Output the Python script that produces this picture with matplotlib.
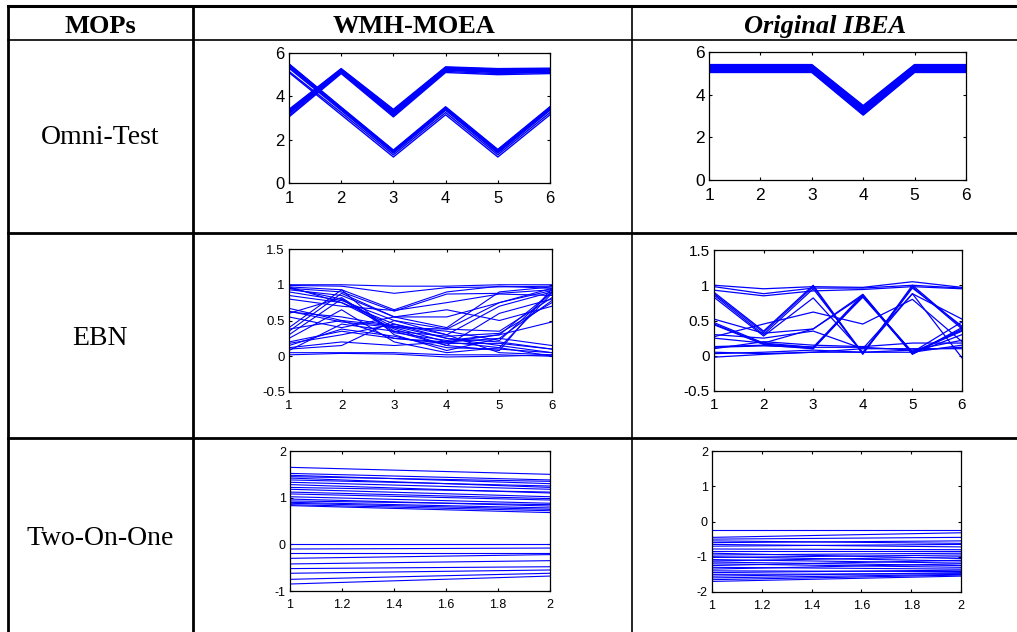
import matplotlib
matplotlib.use('Agg')
import matplotlib.pyplot as plt

plt.rcParams['axes.unicode_minus'] = False

# ---- data (parallel coordinate plots) ----
col_titles = ["MOPs", "WMH-MOEA", "Original IBEA"]
row_titles = ["Omni-Test", "EBN", "Two-On-One"]

omni_x = [1, 2, 3, 4, 5, 6]
omni_wmh_a = [
    [3.05, 5.05, 3.05, 5.10, 5.00, 5.05],
    [3.10, 5.10, 3.10, 5.15, 5.05, 5.10],
    [3.18, 5.12, 3.15, 5.20, 5.10, 5.12],
    [3.22, 5.15, 3.20, 5.22, 5.12, 5.15],
    [3.25, 5.18, 3.22, 5.25, 5.15, 5.18],
    [3.28, 5.20, 3.25, 5.28, 5.18, 5.20],
    [3.30, 5.22, 3.30, 5.30, 5.20, 5.22],
    [3.33, 5.24, 3.32, 5.32, 5.22, 5.25],
    [3.36, 5.26, 3.36, 5.34, 5.25, 5.27],
    [3.40, 5.28, 3.40, 5.36, 5.28, 5.30],
]
omni_wmh_b = [
    [5.10, 3.15, 1.20, 3.15, 1.20, 3.15],
    [5.15, 3.25, 1.30, 3.25, 1.30, 3.25],
    [5.30, 3.35, 1.38, 3.35, 1.38, 3.35],
    [5.35, 3.40, 1.42, 3.40, 1.42, 3.40],
    [5.40, 3.42, 1.45, 3.42, 1.45, 3.42],
    [5.45, 3.45, 1.48, 3.45, 1.48, 3.46],
    [5.48, 3.48, 1.50, 3.48, 1.52, 3.50],
    [5.50, 3.50, 1.52, 3.52, 1.55, 3.52],
]
omni_ibea = [
    [5.05, 5.05, 5.05, 3.05, 5.05, 5.05],
    [5.08, 5.08, 5.08, 3.10, 5.08, 5.08],
    [5.12, 5.12, 5.12, 3.14, 5.12, 5.12],
    [5.15, 5.15, 5.15, 3.18, 5.15, 5.15],
    [5.18, 5.18, 5.18, 3.22, 5.18, 5.18],
    [5.22, 5.22, 5.22, 3.25, 5.22, 5.22],
    [5.25, 5.25, 5.25, 3.28, 5.25, 5.25],
    [5.28, 5.28, 5.28, 3.32, 5.28, 5.28],
    [5.32, 5.32, 5.32, 3.36, 5.32, 5.32],
    [5.35, 5.35, 5.35, 3.40, 5.35, 5.35],
    [5.38, 5.38, 5.38, 3.44, 5.38, 5.38],
    [5.40, 5.40, 5.40, 3.48, 5.40, 5.40],
]

ebn_x = [1, 2, 3, 4, 5, 6]
ebn_wmh = [
    [1.00, 1.00, 0.98, 0.98, 1.00, 1.00],
    [0.99, 0.98, 0.88, 0.96, 0.97, 0.98],
    [0.97, 0.93, 0.65, 0.90, 0.98, 0.95],
    [0.95, 0.90, 0.63, 0.87, 0.88, 0.93],
    [0.93, 0.85, 0.55, 0.40, 0.90, 0.97],
    [0.90, 0.78, 0.50, 0.38, 0.75, 0.92],
    [0.85, 0.75, 0.45, 0.30, 0.70, 0.90],
    [0.80, 0.70, 0.64, 0.75, 0.87, 0.85],
    [0.67, 0.50, 0.42, 0.25, 0.15, 0.05],
    [0.63, 0.48, 0.40, 0.20, 0.12, 0.00],
    [0.60, 0.82, 0.35, 0.15, 0.60, 0.80],
    [0.55, 0.40, 0.55, 0.65, 0.50, 0.70],
    [0.40, 0.93, 0.30, 0.08, 0.25, 0.78],
    [0.35, 0.88, 0.55, 0.55, 0.75, 0.95],
    [0.30, 0.80, 0.40, 0.38, 0.35, 0.82],
    [0.25, 0.65, 0.20, 0.05, 0.12, 0.88],
    [0.20, 0.35, 0.25, 0.20, 0.30, 0.48],
    [0.18, 0.30, 0.45, 0.25, 0.20, 0.10],
    [0.12, 0.20, 0.15, 0.20, 0.25, 0.15],
    [0.10, 0.15, 0.50, 0.30, 0.05, 0.02],
    [0.05, 0.05, 0.05, 0.02, 0.02, 0.00],
    [0.02, 0.04, 0.03, -0.01, 0.00, 0.02],
    [0.97, 0.75, 0.38, 0.15, 0.08, 0.95],
    [0.95, 0.80, 0.33, 0.22, 0.30, 0.90],
    [0.38, 0.50, 0.25, 0.18, 0.18, 0.10],
    [0.15, 0.38, 0.28, 0.12, 0.10, 0.05],
    [0.08, 0.45, 0.35, 0.28, 0.32, 0.75],
    [0.62, 0.55, 0.42, 0.35, 0.22, 0.90],
]
ebn_ibea = [
    [1.00, 0.95, 0.98, 0.97, 1.05, 0.97],
    [0.98, 0.88, 0.96, 0.96, 1.00, 0.96],
    [0.93, 0.85, 0.92, 0.94, 0.98, 0.95],
    [0.90, 0.35, 1.00, 0.03, 1.00, 0.40],
    [0.88, 0.33, 0.98, 0.02, 0.98, 0.38],
    [0.86, 0.30, 0.95, 0.04, 0.96, 0.42],
    [0.83, 0.28, 0.82, 0.05, 0.88, 0.52],
    [0.52, 0.32, 0.38, 0.85, 0.05, 0.48],
    [0.47, 0.18, 0.12, 0.87, 0.03, 0.38],
    [0.45, 0.17, 0.10, 0.85, 0.05, 0.36],
    [0.44, 0.16, 0.12, 0.83, 0.04, 0.35],
    [0.27, 0.45, 0.62, 0.45, 0.80, 0.20],
    [0.25, 0.18, 0.38, 0.87, 0.03, 0.30],
    [0.13, 0.15, 0.10, 0.85, 0.02, 0.40],
    [0.12, 0.14, 0.12, 0.12, 0.08, 0.22],
    [0.10, 0.20, 0.15, 0.13, 0.18, 0.18],
    [0.05, 0.03, 0.05, 0.05, 0.05, 0.15],
    [0.03, 0.05, 0.08, 0.05, 0.08, 0.12],
    [-0.02, 0.02, 0.05, 0.10, 0.10, 0.10],
    [0.30, 0.25, 0.35, 0.10, 0.88, -0.03],
]

two_x = [1, 2]
two_wmh_start = [1.65, 1.52, 1.48, 1.45, 1.42, 1.38, 1.33, 1.28, 1.22, 1.18,
                 1.12, 1.08, 1.02, 0.97, 0.93, 0.90, 0.88, 0.85, 0.83,
                 0.00, -0.10, -0.18, -0.30, -0.42, -0.52, -0.62, -0.75, -0.85]
two_wmh_end = [1.50, 1.38, 1.30, 1.35, 1.22, 1.25, 1.18, 1.10, 1.12, 1.02,
               0.98, 0.95, 0.88, 0.82, 0.85, 0.78, 0.75, 0.72, 0.68,
               0.00, -0.08, -0.18, -0.22, -0.35, -0.48, -0.55, -0.62, -0.68]
two_ibea_start = [-0.25, -0.45, -0.50, -0.55, -0.60, -0.65, -0.70, -0.78, -0.85, -0.90,
                  -0.95, -1.00, -1.02, -1.08, -1.12, -1.15, -1.20, -1.25, -1.30, -1.35,
                  -1.40, -1.45, -1.50, -1.55, -1.60, -1.65, -1.70]
two_ibea_end = [-0.25, -0.32, -0.45, -0.62, -0.55, -0.72, -0.65, -0.80, -0.85, -1.05,
                -0.90, -1.12, -0.95, -1.18, -1.00, -1.25, -1.30, -1.10, -1.35, -1.20,
                -1.42, -1.38, -1.48, -1.45, -1.50, -1.52, -1.55]

W, H = 1017, 632
fig = plt.figure(figsize=(W / 100, H / 100), dpi=100)

# background axes in pixel coordinates for the table grid
bg = fig.add_axes([0, 0, 1, 1])
bg.set_xlim(0, W)
bg.set_ylim(H, 0)
bg.axis('off')

bg.plot([8, W], [6, 6], color='black', lw=2.2)
bg.plot([8, W], [40, 40], color='black', lw=1.2)
bg.plot([8, W], [233, 233], color='black', lw=2.0)
bg.plot([8, W], [438, 438], color='black', lw=2.0)
bg.plot([8, 8], [6, H], color='black', lw=2.0)
bg.plot([193, 193], [6, H], color='black', lw=2.0)
bg.plot([632, 632], [6, H], color='black', lw=1.2)

serif = 'Liberation Serif'
bg.text(100, 33, col_titles[0], ha='center', va='baseline', fontsize=19,
        fontweight='bold', family=serif)
bg.text(414, 33, col_titles[1], ha='center', va='baseline', fontsize=19,
        fontweight='bold', family=serif)
bg.text(825, 33, col_titles[2], ha='center', va='baseline', fontsize=19,
        fontweight='bold', fontstyle='italic', family=serif)
for label, yb in zip(row_titles, [144, 345, 545]):
    bg.text(100, yb, label, ha='center', va='baseline', fontsize=20, family=serif)


def make_ax(left, top, right, bottom, fs, xpad):
    ax = fig.add_axes([left / W, 1 - bottom / H, (right - left) / W, (bottom - top) / H])
    ax.tick_params(direction='in', top=True, right=True, length=2.5, width=0.8,
                   labelsize=fs)
    ax.tick_params(axis='x', pad=xpad)
    ax.tick_params(axis='y', pad=3)
    for s in ax.spines.values():
        s.set_linewidth(0.9)
    return ax


def style_labels(ax):
    for lab in ax.get_xticklabels() + ax.get_yticklabels():
        lab.set_family('Liberation Sans')


blue = (0, 0, 1)

# Omni-Test, WMH-MOEA
ax = make_ax(289, 53, 550, 183, 12, 6)
for row in omni_wmh_a + omni_wmh_b:
    ax.plot(omni_x, row, color=blue, lw=1.0)
ax.set_xlim(1, 6)
ax.set_ylim(0, 6)
ax.set_xticks(omni_x)
ax.set_yticks([0, 2, 4, 6])
style_labels(ax)

# Omni-Test, IBEA
ax = make_ax(709, 52, 966, 180, 12.5, 6)
for row in omni_ibea:
    ax.plot(omni_x, row, color=blue, lw=1.3)
ax.set_xlim(1, 6)
ax.set_ylim(0, 6)
ax.set_xticks(omni_x)
ax.set_yticks([0, 2, 4, 6])
style_labels(ax)

ebn_ticks = [-0.5, 0, 0.5, 1, 1.5]
ebn_labels = ["-0.5", "0", "0.5", "1", "1.5"]

# EBN, WMH-MOEA
ax = make_ax(289, 249, 552, 392, 9.5, 6)
for row in ebn_wmh:
    ax.plot(ebn_x, row, color=blue, lw=0.8)
ax.set_xlim(1, 6)
ax.set_ylim(-0.5, 1.5)
ax.set_xticks(ebn_x)
ax.set_yticks(ebn_ticks)
ax.set_yticklabels(ebn_labels)
style_labels(ax)

# EBN, IBEA
ax = make_ax(714, 250, 962, 391, 11, 5)
for row in ebn_ibea:
    ax.plot(ebn_x, row, color=blue, lw=0.9)
ax.set_xlim(1, 6)
ax.set_ylim(-0.5, 1.5)
ax.set_xticks(ebn_x)
ax.set_yticks(ebn_ticks)
ax.set_yticklabels(ebn_labels)
style_labels(ax)

two_xticks = [1, 1.2, 1.4, 1.6, 1.8, 2]
two_xlabels = ["1", "1.2", "1.4", "1.6", "1.8", "2"]

# Two-On-One, WMH-MOEA
ax = make_ax(290, 451, 550, 591, 9, 6)
for a, b in zip(two_wmh_start, two_wmh_end):
    ax.plot(two_x, [a, b], color=blue, lw=0.8)
ax.set_xlim(1, 2)
ax.set_ylim(-1, 2)
ax.set_xticks(two_xticks)
ax.set_xticklabels(two_xlabels)
ax.set_yticks([-1, 0, 1, 2])
style_labels(ax)

# Two-On-One, IBEA
ax = make_ax(712, 451, 961, 592, 9, 6)
for a, b in zip(two_ibea_start, two_ibea_end):
    ax.plot(two_x, [a, b], color=blue, lw=0.8)
ax.set_xlim(1, 2)
ax.set_ylim(-2, 2)
ax.set_xticks(two_xticks)
ax.set_xticklabels(two_xlabels)
ax.set_yticks([-2, -1, 0, 1, 2])
style_labels(ax)

fig.savefig('out.png', dpi=100)
